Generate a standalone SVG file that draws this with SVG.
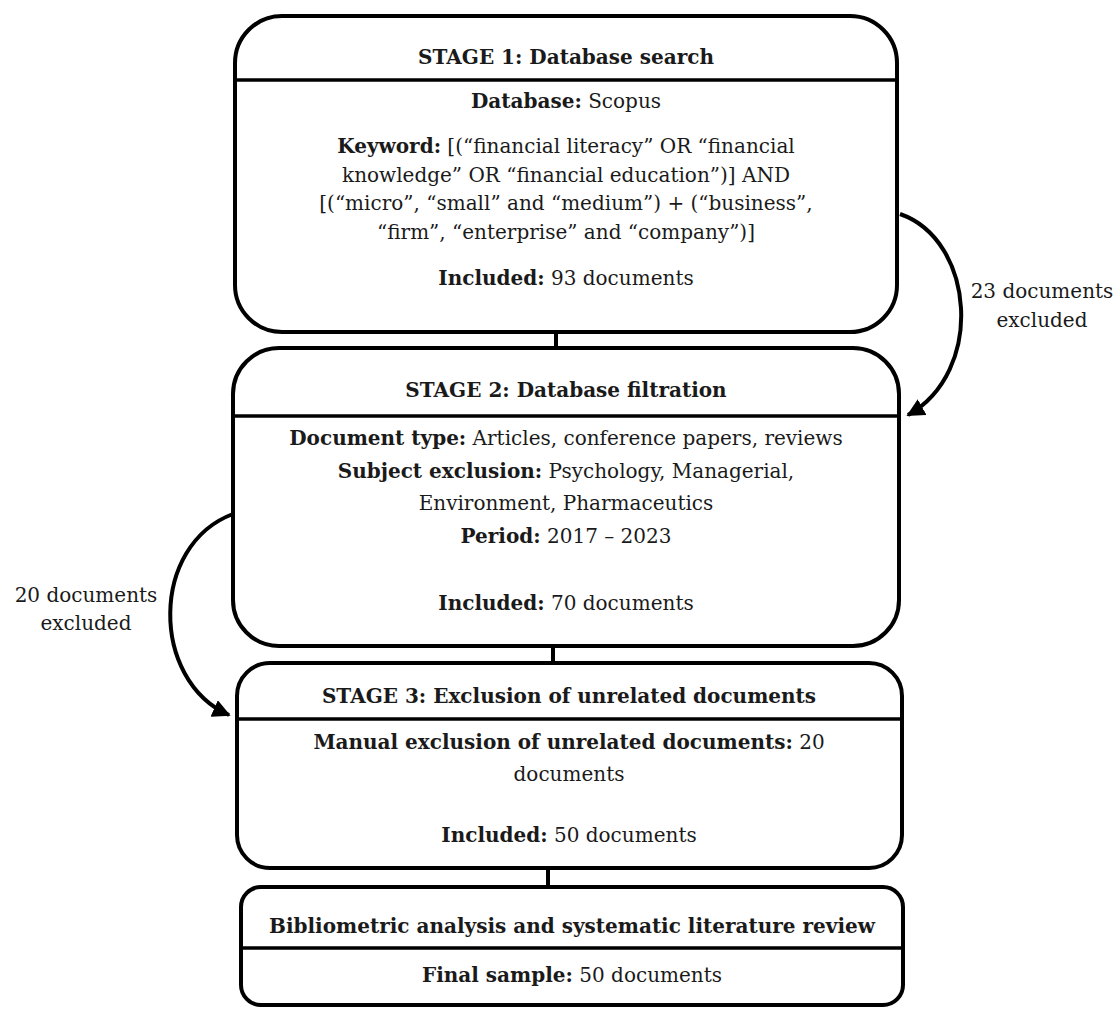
<svg xmlns="http://www.w3.org/2000/svg" width="1120" height="1009" viewBox="0 0 1120 1009">
<defs>
<style>
.box{fill:#fff;stroke:#000;stroke-width:4}
.div{stroke:#000;stroke-width:3.5}
.conn{stroke:#000;stroke-width:4;fill:none}
text{font-family:"DejaVu Serif","Liberation Serif",serif;font-size:20px;fill:#1a1a1a;text-anchor:middle}
.b{font-weight:bold}
</style>
<marker id="ah" viewBox="0 0 10 10" refX="9" refY="5" markerWidth="4.5" markerHeight="4.5" orient="auto" markerUnits="strokeWidth">
<path d="M0,0 L10,5 L0,10 Z" fill="#000"/>
</marker>
</defs>
<rect width="1120" height="1009" fill="#fff"/>
<g id="connectors">
<line class="conn" x1="556" y1="332" x2="556" y2="348"/>
<line class="conn" x1="553" y1="646" x2="553" y2="663"/>
<line class="conn" x1="548" y1="868" x2="548" y2="887"/>
<path class="conn" d="M900 214 C975 240 985 372 908 415" marker-end="url(#ah)"/>
<path class="conn" d="M233 514 C150 545 150 680 229 715" marker-end="url(#ah)"/>
</g>
<g id="stage1">
<rect class="box" x="235" y="16" width="662" height="316" rx="47" ry="47"/>
<line class="div" x1="235" y1="80" x2="897" y2="80"/>
<text class="b" x="566" y="64">STAGE 1: Database search</text>
<text x="566" y="108"><tspan class="b">Database:</tspan> Scopus</text>
<text x="566" y="153"><tspan class="b">Keyword:</tspan> [(“financial literacy” OR “financial</text>
<text x="566" y="182">knowledge” OR “financial education”)] AND</text>
<text x="566" y="210">[(“micro”, “small” and “medium”) + (“business”,</text>
<text x="566" y="239">“firm”, “enterprise” and “company”)]</text>
<text x="566" y="285"><tspan class="b">Included:</tspan> 93 documents</text>
</g>
<g id="excl1">
<text x="1042" y="298">23 documents</text>
<text x="1042" y="327">excluded</text>
</g>
<g id="stage2">
<rect class="box" x="233" y="348" width="666" height="298" rx="46" ry="46"/>
<line class="div" x1="233" y1="416" x2="899" y2="416"/>
<text class="b" x="566" y="397">STAGE 2: Database filtration</text>
<text x="566" y="445"><tspan class="b">Document type:</tspan> Articles, conference papers, reviews</text>
<text x="566" y="478"><tspan class="b">Subject exclusion:</tspan> Psychology, Managerial,</text>
<text x="566" y="510">Environment, Pharmaceutics</text>
<text x="566" y="543"><tspan class="b">Period:</tspan> 2017 – 2023</text>
<text x="566" y="610"><tspan class="b">Included:</tspan> 70 documents</text>
</g>
<g id="excl2">
<text x="86" y="602">20 documents</text>
<text x="86" y="630">excluded</text>
</g>
<g id="stage3">
<rect class="box" x="237" y="663" width="665" height="205" rx="33" ry="33"/>
<line class="div" x1="237" y1="719" x2="902" y2="719"/>
<text class="b" x="569" y="703">STAGE 3: Exclusion of unrelated documents</text>
<text x="569" y="749"><tspan class="b">Manual exclusion of unrelated documents:</tspan> 20</text>
<text x="569" y="781">documents</text>
<text x="569" y="842"><tspan class="b">Included:</tspan> 50 documents</text>
</g>
<g id="final">
<rect class="box" x="241" y="887" width="662" height="118" rx="20" ry="20"/>
<line class="div" x1="241" y1="948" x2="903" y2="948"/>
<text class="b" x="572" y="933">Bibliometric analysis and systematic literature review</text>
<text x="572" y="982"><tspan class="b">Final sample:</tspan> 50 documents</text>
</g>
</svg>
